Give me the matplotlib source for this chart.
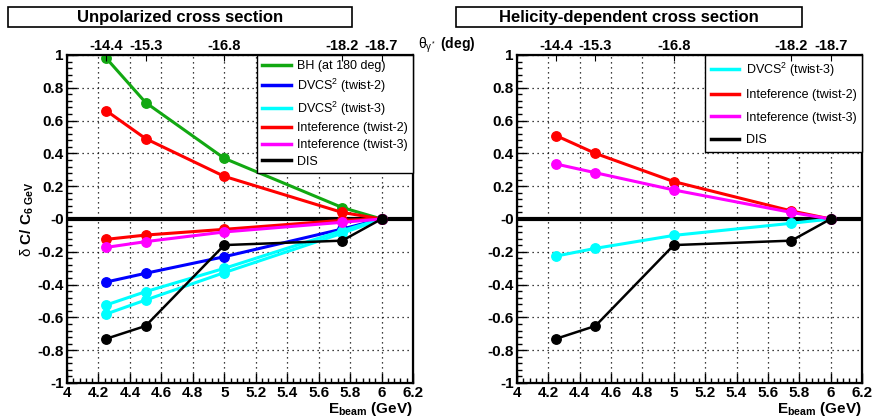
import matplotlib
matplotlib.use("Agg")
import matplotlib.pyplot as plt
from matplotlib.patches import Rectangle
from matplotlib.ticker import MultipleLocator

plt.rcParams["font.family"] = ["Liberation Sans", "DejaVu Sans"]
plt.rcParams["mathtext.fontset"] = "custom"
plt.rcParams["mathtext.rm"] = "Liberation Sans"
plt.rcParams["mathtext.it"] = "Liberation Sans:italic"
plt.rcParams["mathtext.bf"] = "Liberation Sans:bold"

# beam energies (GeV) and matching photon angle labels for top axis
e_beam = [4.25, 4.5, 5.0, 5.75, 6.0]
theta_labels = ["-14.4", "-15.3", "-16.8", "-18.2", "-18.7"]

# unpolarized cross section, relative change wrt 6 GeV
unpol_bh = [0.98, 0.71, 0.37, 0.07, 0.0]
unpol_dvcs2 = [-0.384, -0.331, -0.23, -0.061, 0.0]
unpol_dvcs3_a = [-0.524, -0.443, -0.301, -0.071, 0.0]
unpol_dvcs3_b = [-0.579, -0.494, -0.327, -0.087, 0.0]
unpol_int2_a = [0.66, 0.49, 0.26, 0.04, 0.0]
unpol_int2_b = [-0.124, -0.098, -0.063, -0.008, 0.0]
unpol_int3 = [-0.173, -0.138, -0.079, -0.02, 0.0]
dis = [-0.73, -0.652, -0.159, -0.132, 0.0]

# helicity-dependent cross section
hel_dvcs3 = [-0.226, -0.179, -0.10, -0.026, 0.0]
hel_int2 = [0.508, 0.40, 0.228, 0.049, 0.0]
hel_int3 = [0.335, 0.282, 0.177, 0.04, 0.0]

GREEN = "#12a812"
W = 873
H = 418
FS = 11

fig = plt.figure(figsize=(8.73, 4.18), dpi=100)


def px_axes(x0, x1, y0, y1):
    return fig.add_axes([x0 / W, 1 - y1 / H, (x1 - x0) / W, (y1 - y0) / H])


def style_axes(ax):
    ax.set_xlim(4, 6.2)
    ax.set_ylim(-1, 1)
    ax.xaxis.set_minor_locator(MultipleLocator(0.04))
    ax.yaxis.set_minor_locator(MultipleLocator(0.04))
    xt = [4 + 0.2 * i for i in range(12)]
    ax.set_xticks(xt)
    ax.set_xticklabels(["%g" % round(v, 1) for v in xt], fontweight="bold", fontsize=FS)
    yt = [-1 + 0.2 * i for i in range(11)]
    ylab = []
    for v in yt:
        v = round(v, 1)
        ylab.append("-0" if v == 0 else "%g" % v)
    ax.set_yticks(yt)
    ax.set_yticklabels(ylab, fontweight="bold", fontsize=FS)
    ax.tick_params(which="both", direction="in", top=False, right=False)
    ax.tick_params(which="major", length=7, width=1.0, pad=2.5)
    ax.tick_params(which="minor", length=3.5, width=1.0)
    ax.grid(True, which="major", color="black", linestyle=(0, (1, 3)), linewidth=0.9)
    for sp in ax.spines.values():
        sp.set_linewidth(1.6)
    ax.axhline(0, color="black", linewidth=3, zorder=2)

    top = ax.twiny()
    top.set_xlim(4, 6.2)
    top.set_xticks(e_beam)
    top.set_xticklabels(theta_labels, fontweight="bold", fontsize=10.5)
    top.tick_params(direction="in", length=4, pad=1.5)
    top.xaxis.set_minor_locator(plt.NullLocator())

    ax.text(1.0, -0.052, r"E$_{\mathbf{beam}}$ (GeV)", transform=ax.transAxes,
            ha="right", va="top", fontweight="bold", fontsize=FS)


def draw(ax, y, color, label=None, lw=2.2):
    ax.plot(e_beam, y, color=color, lw=lw, marker="o", markersize=6.8,
            label=label, zorder=3)


def add_legend(ax, spacing, pad):
    leg = ax.legend(loc="upper right", bbox_to_anchor=(1, 1), borderaxespad=0,
                    fontsize=9, handlelength=2.3, handletextpad=0.5,
                    labelspacing=spacing, borderpad=pad, fancybox=False,
                    framealpha=1, edgecolor="black")
    leg.get_frame().set_linewidth(1.0)
    for h in leg.legend_handles:
        h.set_marker("")
        h.set_linewidth(2.5)


def title_box(x0, x1, text):
    fig.patches.append(Rectangle((x0 / W, 1 - 27 / H), (x1 - x0) / W, 20 / H,
                                 transform=fig.transFigure, fill=False,
                                 edgecolor="black", linewidth=1.2))
    fig.text((x0 + x1) / 2 / W, 1 - 17.5 / H, text, ha="center", va="center",
             fontweight="bold", fontsize=12)


# left panel
ax1 = px_axes(67, 413, 55, 383)
style_axes(ax1)
draw(ax1, unpol_bh, GREEN, "BH (at 180 deg)")
draw(ax1, unpol_dvcs2, "blue", r"DVCS$^2$ (twist-2)")
draw(ax1, unpol_dvcs3_a, "cyan", r"DVCS$^2$ (twist-3)")
draw(ax1, unpol_dvcs3_b, "cyan")
draw(ax1, unpol_int2_a, "red", "Inteference (twist-2)")
draw(ax1, unpol_int2_b, "red")
draw(ax1, unpol_int3, "magenta", "Inteference (twist-3)")
draw(ax1, dis, "black", "DIS", lw=1.8)
add_legend(ax1, 0.37, 0.4)

fig.text(27 / W, 1 - 219 / H, r"$\mathrm{\delta}$ C/ C$_{\mathbf{6\ GeV}}$",
         rotation=90, ha="center", va="center", fontweight="bold", fontsize=FS)

# right panel
ax2 = px_axes(517, 862, 55, 383)
style_axes(ax2)
draw(ax2, hel_dvcs3, "cyan", r"DVCS$^2$ (twist-3)")
draw(ax2, hel_int2, "red", "Inteference (twist-2)")
draw(ax2, hel_int3, "magenta", "Inteference (twist-3)")
draw(ax2, dis, "black", "DIS", lw=1.8)
add_legend(ax2, 0.83, 0.45)

title_box(8, 352, "Unpolarized cross section")
title_box(456, 802, "Helicity-dependent cross section")

fig.text(418 / W, 1 - 45 / H, r"$\mathrm{\theta}_{\mathrm{\gamma^*}}$ (deg)",
         ha="left", va="center", fontweight="bold", fontsize=10)

fig.savefig("out.png", dpi=100)
